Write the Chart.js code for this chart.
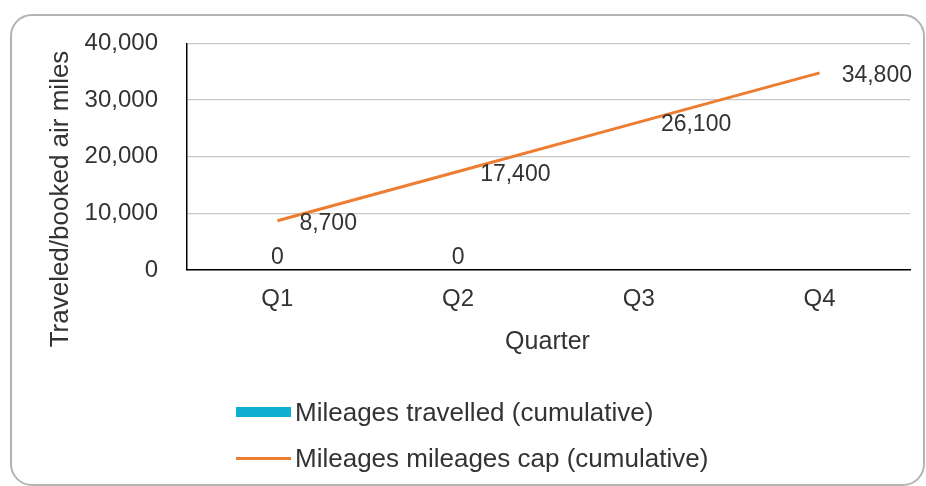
<!DOCTYPE html>
<html>
<head>
<meta charset="utf-8">
<script src="https://cdn.jsdelivr.net/npm/chart.js@4/dist/chart.umd.min.js"></script>
<style>
  html, body { margin: 0; padding: 0; background: #fff; }
  #wrap { position: relative; width: 926px; height: 486px; overflow: hidden; font-family: 'Liberation Sans', Arial, sans-serif; }
  #frame { position: absolute; left: 10px; top: 14px; width: 911px; height: 468px; border: 2px solid #b3b3b3; border-radius: 22px; }
  canvas { position: absolute; left: 0; top: 0; }
  .leg { position: absolute; left: 236px; height: 30px; display: flex; align-items: center; color: #333; font-size: 26px; white-space: nowrap; }
  .sw { display: inline-block; width: 55px; margin-right: 4px; }
</style>
</head>
<body>
<div id="wrap">
  <div id="frame"></div>
  <canvas id="c" width="926" height="486"></canvas>
  <div class="leg" id="leg1" style="top:397px"><span class="sw" style="height:10px;background:#10AECF"></span><span id="lt1"></span></div>
  <div class="leg" id="leg2" style="top:443px"><span class="sw" style="height:3px;background:#ED7D31"></span><span id="lt2"></span></div>
</div>
<script>
const categories = ['Q1', 'Q2', 'Q3', 'Q4'];
const travelled = [0, 0, null, null];
const mileageCap = [8700, 17400, 26100, 34800];
const seriesNames = ['Mileages travelled (cumulative)', 'Mileages mileages cap (cumulative)'];
const yTicks = [0, 10000, 20000, 30000, 40000];
const xTitle = 'Quarter';
const yTitle = 'Traveled/booked air miles';

document.getElementById('lt1').textContent = seriesNames[0];
document.getElementById('lt2').textContent = seriesNames[1];

const FONT = "'Liberation Sans', Arial, sans-serif";
const TXT = '#333333';
const fmt = v => v.toLocaleString('en-US');

const labelPlugin = {
  id: 'labels',
  afterDatasetsDraw(chart) {
    const ctx = chart.ctx;
    ctx.save();
    ctx.fillStyle = TXT;
    ctx.font = '23px ' + FONT;
    const m0 = chart.getDatasetMeta(0);
    m0.data.forEach((el, i) => {
      const v = travelled[i];
      if (v === null || v === undefined) return;
      ctx.textAlign = 'center';
      ctx.textBaseline = 'middle';
      ctx.fillText(fmt(v), el.x, el.y - 12);
    });
    const m1 = chart.getDatasetMeta(1);
    m1.data.forEach((el, i) => {
      const v = mileageCap[i];
      if (v === null || v === undefined) return;
      ctx.textAlign = 'left';
      ctx.textBaseline = 'middle';
      ctx.fillText(fmt(v), el.x + 22, el.y + 3);
    });
    ctx.restore();
  },
  afterDraw(chart) {
    const ctx = chart.ctx;
    const ca = chart.chartArea;
    ctx.save();
    ctx.fillStyle = TXT;
    ctx.font = '25px ' + FONT;
    ctx.textAlign = 'center';
    ctx.textBaseline = 'middle';
    ctx.fillText(xTitle, (ca.left + ca.right) / 2 - 1, 342);
    ctx.font = '26px ' + FONT;
    ctx.translate(61, 199);
    ctx.rotate(-Math.PI / 2);
    ctx.fillText(yTitle, 0, 0);
    ctx.restore();
  }
};

new Chart(document.getElementById('c'), {
  data: {
    labels: categories,
    datasets: [
      { type: 'bar', label: seriesNames[0], data: travelled, backgroundColor: '#10AECF', order: 2 },
      { type: 'line', label: seriesNames[1], data: mileageCap, borderColor: '#ED7D31', borderWidth: 3,
        pointRadius: 0, fill: false, tension: 0, order: 1 }
    ]
  },
  options: {
    responsive: false,
    animation: false,
    layout: { padding: { left: 0, right: 16, top: 42, bottom: 0 } },
    plugins: { legend: { display: false }, tooltip: { enabled: false } },
    scales: {
      x: {
        offset: true,
        grid: { display: false, drawTicks: false },
        border: { display: true, color: '#000', width: 1.5 },
        ticks: { color: TXT, font: { family: FONT, size: 24 }, padding: 15 },
        afterFit(s) { s.height = 216; }
      },
      y: {
        min: 0, max: 40000,
        afterBuildTicks(s) { s.ticks = yTicks.map(v => ({ value: v })); },
        grid: { color: '#c8c8c8', lineWidth: 1.2, drawTicks: false },
        border: { display: true, color: '#000', width: 1.5 },
        ticks: { color: TXT, font: { family: FONT, size: 24 }, padding: 29, callback: v => fmt(v) },
        afterFit(s) { s.width = 187; }
      }
    }
  },
  plugins: [labelPlugin]
});
</script>
</body>
</html>
